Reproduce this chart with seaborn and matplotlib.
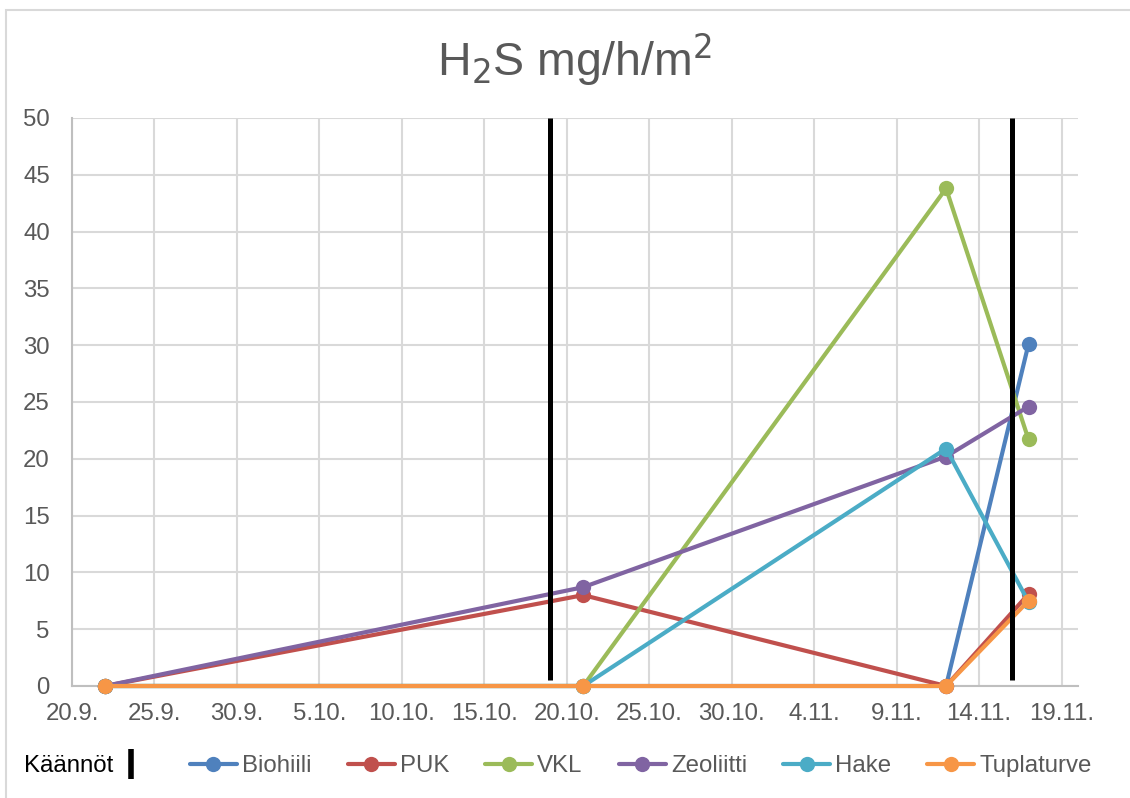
import matplotlib
matplotlib.use("Agg")
import matplotlib.pyplot as plt
from matplotlib.lines import Line2D
from matplotlib.patches import Rectangle
import pandas as pd
import seaborn as sns

# Measurement dates and H2S emission values (mg/h/m2)
dates = ["2020-09-22", "2020-10-21", "2020-11-12", "2020-11-17"]
biohiili = [0, 0, 0, 30.1]
puk = [0, 8.0, 0, 8.1]
vkl = [0, 0, 43.8, 21.7]
zeoliitti = [0, 8.7, 20.2, 24.6]
hake = [0, 0, 20.9, 7.4]
tuplaturve = [0, 0, 0, 7.5]

# Compost turning dates
turn_dates = ["2020-10-19", "2020-11-16"]

series_names = ["Biohiili", "PUK", "VKL", "Zeoliitti", "Hake", "Tuplaturve"]
series_values = [biohiili, puk, vkl, zeoliitti, hake, tuplaturve]
colors = ["#4F81BD", "#C0504D", "#9BBB59", "#8064A2", "#4BACC6", "#F79646"]

tick_dates = pd.date_range("2020-09-20", "2020-11-19", freq="5D")
y_ticks = list(range(0, 51, 5))

df = pd.DataFrame({
    "pvm": pd.to_datetime(dates * len(series_names)),
    "arvo": [v for vals in series_values for v in vals],
    "sarja": [n for n in series_names for _ in dates],
})

sns.set_style("white")
plt.rcParams["font.family"] = ["Liberation Sans", "DejaVu Sans"]

grey_text = "#595959"
fs = 17.3
fig = plt.figure(figsize=(11.3, 7.98), dpi=100)
ax = fig.add_axes([72 / 1130, 112 / 798, 1006 / 1130, 568 / 798])

for i, (name, color) in enumerate(zip(series_names, colors)):
    sub = df[df["sarja"] == name]
    sns.lineplot(data=sub, x="pvm", y="arvo", color=color, marker="o",
                 markersize=11, markeredgewidth=0, linewidth=3.0,
                 label=name, ax=ax, clip_on=False, zorder=3 + i)

ax.vlines(pd.to_datetime(turn_dates), 0.5, 50, color="black",
          linewidth=3.6, zorder=10, clip_on=False)

ax.set_xlim(pd.Timestamp("2020-09-20"), pd.Timestamp("2020-11-20"))
ax.set_ylim(0, 50)
ax.set_xticks(tick_dates)
ax.set_xticklabels([f"{d.day}.{d.month}." for d in tick_dates])
ax.set_yticks(y_ticks)
ax.set_xlabel("")
ax.set_ylabel("")
ax.tick_params(axis="both", length=0, labelsize=fs, colors=grey_text)
ax.tick_params(axis="x", pad=12)
ax.tick_params(axis="y", pad=16)

ax.grid(True, color="#D9D9D9", linewidth=1.5)
ax.set_axisbelow(True)
for side in ["top", "right"]:
    ax.spines[side].set_visible(False)
for side in ["left", "bottom"]:
    ax.spines[side].set_color("#BFBFBF")
    ax.spines[side].set_linewidth(1.5)

fig.text(574 / 1130, 1 - 60 / 798, r"H$_2$S mg/h/m$^2$", ha="center",
         va="center", fontsize=33.5, color=grey_text)

handles, labels = ax.get_legend_handles_labels()
ax.get_legend().remove()
leg = fig.legend(handles, labels, loc="center left",
                 bbox_to_anchor=(190 / 1130, 32 / 798), ncol=6, frameon=False,
                 fontsize=fs, handlelength=1.95, handletextpad=0.22,
                 columnspacing=1.5, borderpad=0, borderaxespad=0)
for t in leg.get_texts():
    t.set_color(grey_text)

turn_handle = Line2D([], [], color="black", marker="|", markersize=21,
                     markeredgewidth=4, linestyle="none")
leg2 = fig.legend([turn_handle], ["Käännöt"], loc="center left",
                  bbox_to_anchor=(24 / 1130, 32 / 798), frameon=False,
                  fontsize=fs, markerfirst=False, handlelength=0.5,
                  handletextpad=0.5, borderpad=0, borderaxespad=0)
leg2.get_texts()[0].set_color("black")

fig.patches.append(Rectangle((6 / 1130, -0.05), 1.1, 1.05 - 10 / 798,
                             transform=fig.transFigure, fill=False,
                             edgecolor="#D9D9D9", linewidth=1.5))

fig.savefig("out.png", dpi=100)
